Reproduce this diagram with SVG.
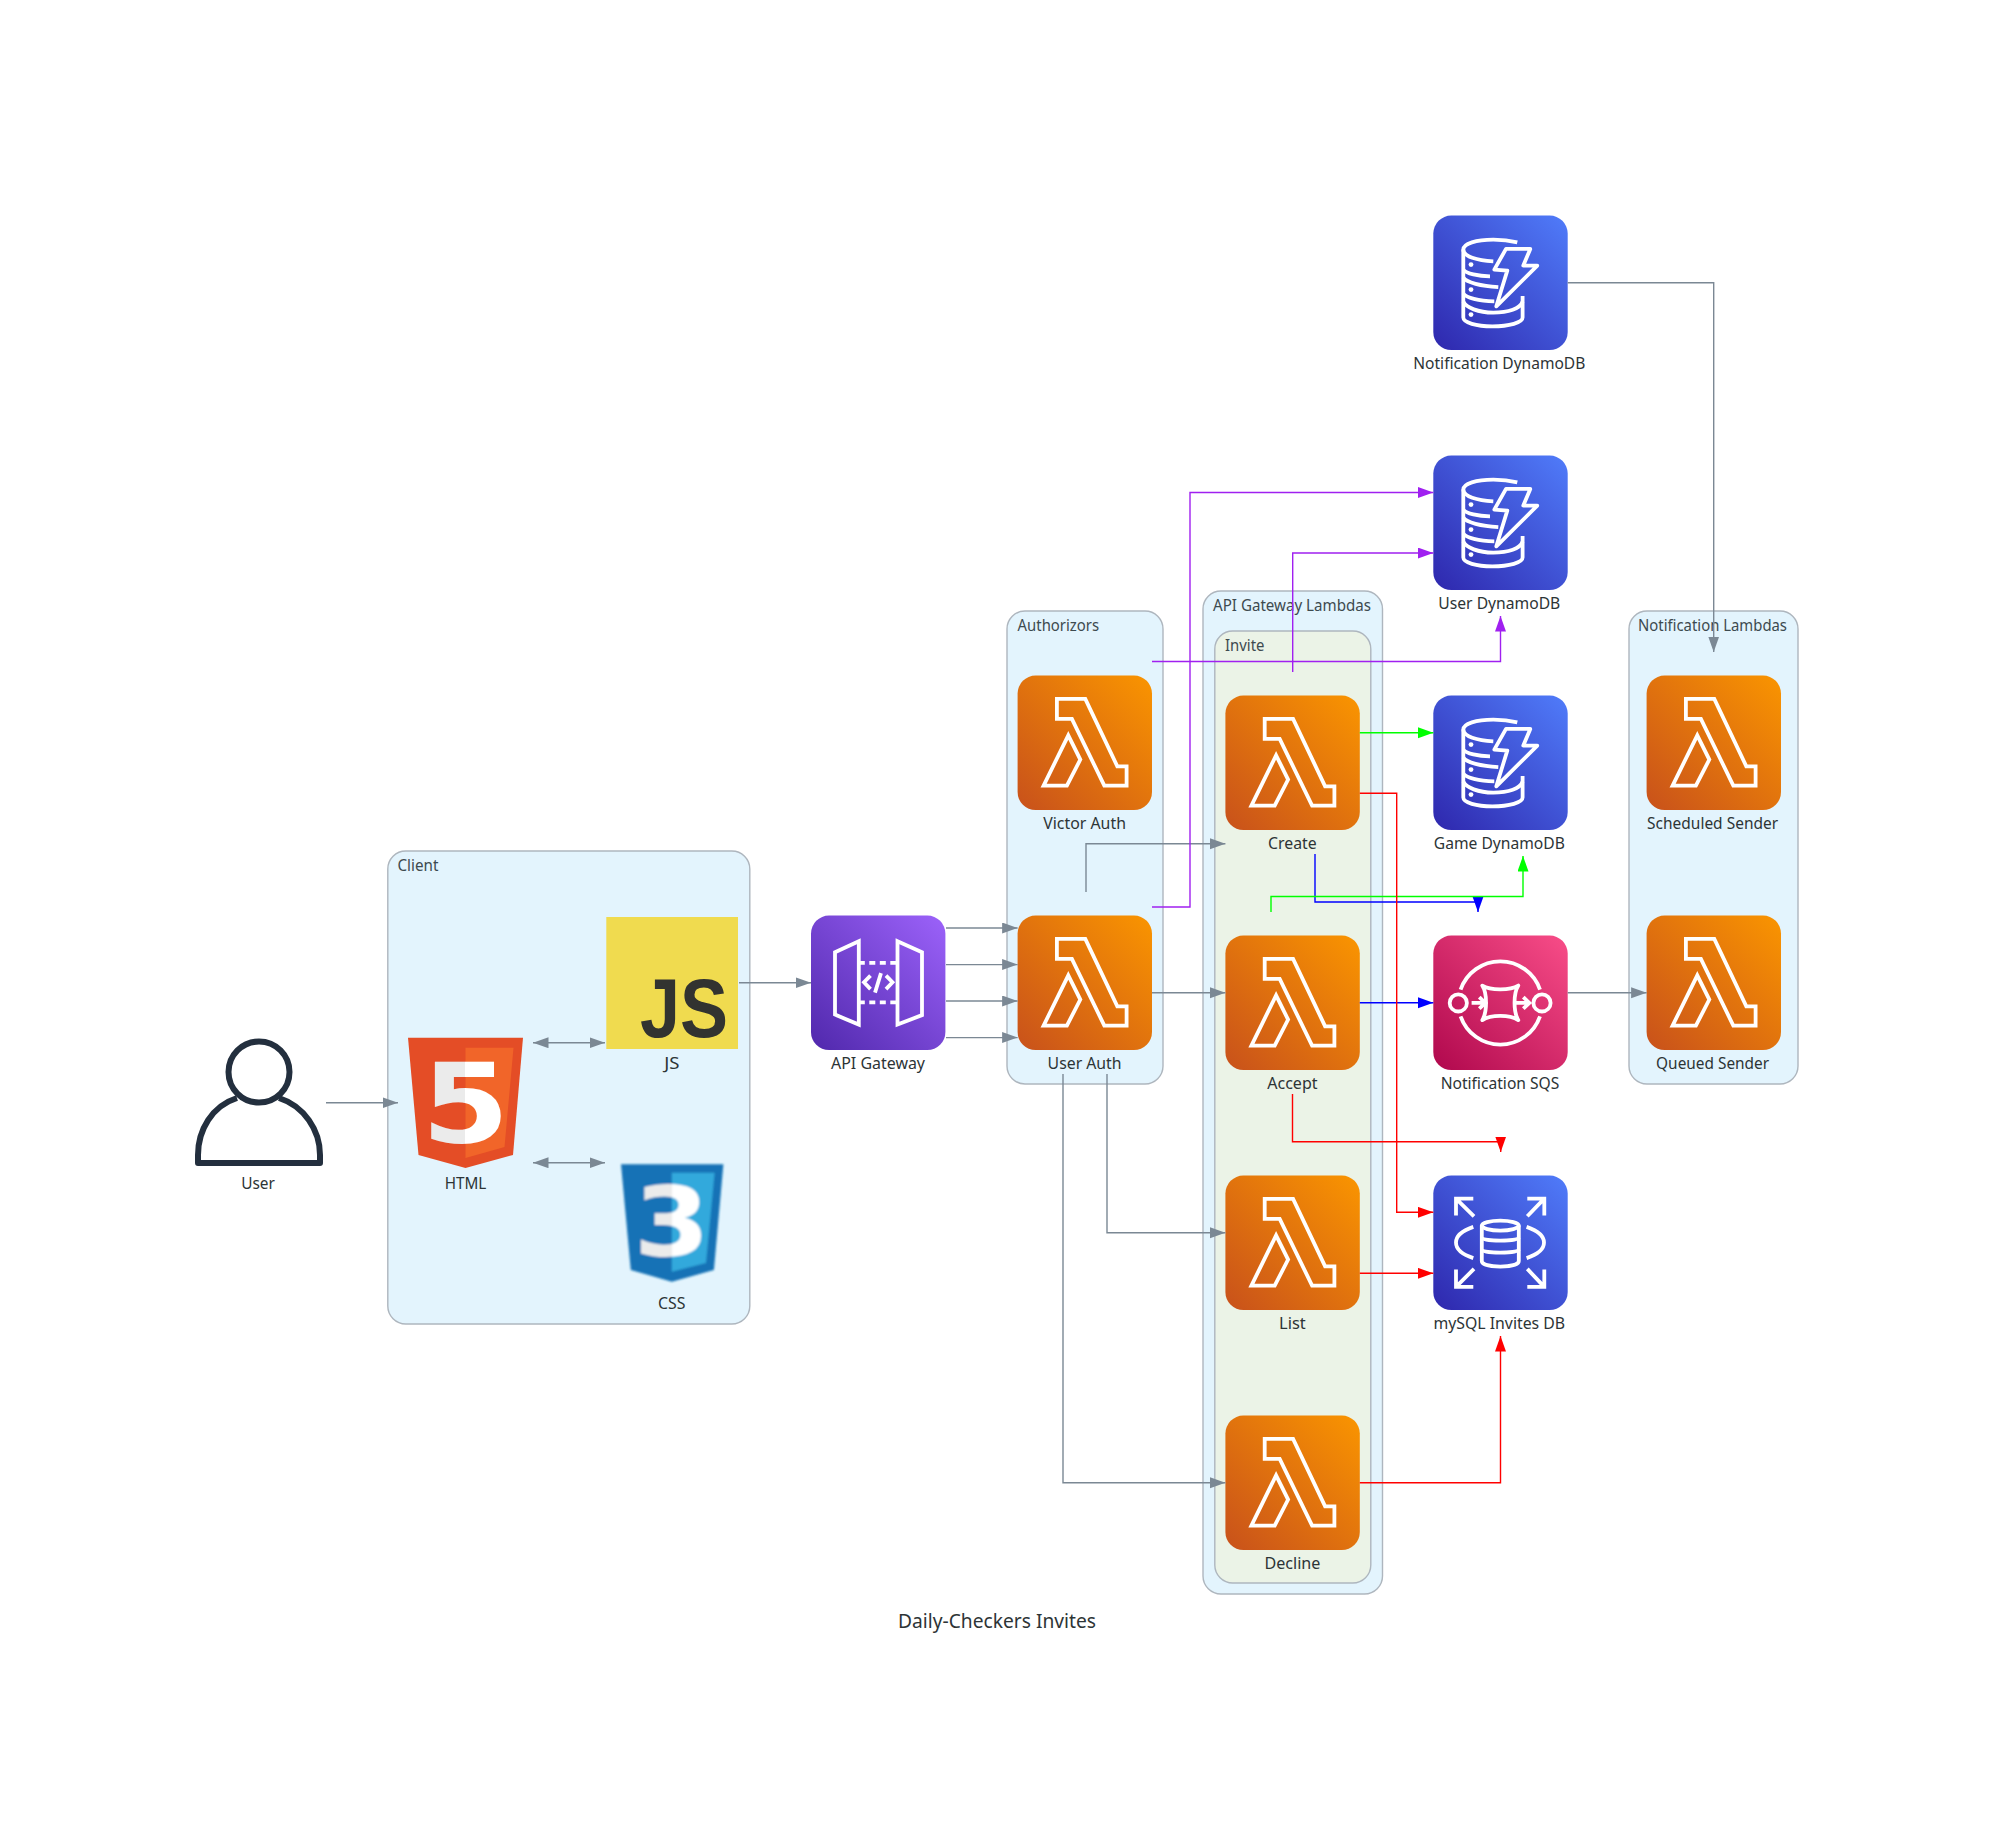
<svg xmlns="http://www.w3.org/2000/svg" width="1994" height="1833" viewBox="0 0 1994 1833">
<style>
text{font-family:"Noto Sans","Liberation Sans",sans-serif;fill:#2D3436}
.lbl{font-size:15.5px;text-anchor:middle}
.cl{font-size:15.5px;fill:#3d4a4f}
.title{font-size:20px;text-anchor:middle}
.cluster{fill:#E3F4FD;stroke:#AEB6BE;stroke-width:1.4}
.green{fill:#EBF3E7}
.ic{fill:none;stroke:#fff;stroke-width:3.8;stroke-linejoin:miter}
.e{fill:none;stroke-width:1.4}
.g{stroke:#7B8894}.p{stroke:#A020F0}.r{stroke:#FF0000}.n{stroke:#00FF00}.b{stroke:#0000FF}
.logo{font-family:"DejaVu Sans",sans-serif;font-weight:700;text-anchor:middle}
</style>
<defs>
<linearGradient id="gL" x1="0" y1="1" x2="1" y2="0"><stop offset="0" stop-color="#C8511B"/><stop offset="1" stop-color="#FA9500"/></linearGradient>
<linearGradient id="gD" x1="0" y1="1" x2="1" y2="0"><stop offset="0" stop-color="#2E27AD"/><stop offset="1" stop-color="#507CFA"/></linearGradient>
<linearGradient id="gA" x1="0" y1="1" x2="1" y2="0"><stop offset="0" stop-color="#5028AC"/><stop offset="1" stop-color="#9C62FA"/></linearGradient>
<linearGradient id="gS" x1="0" y1="1" x2="1" y2="0"><stop offset="0" stop-color="#B0084D"/><stop offset="1" stop-color="#F84D88"/></linearGradient>
<linearGradient id="five" gradientUnits="userSpaceOnUse" x1="408" y1="0" x2="523" y2="0"><stop offset=".5" stop-color="#EBEBEB"/><stop offset=".5" stop-color="#FFFFFF"/></linearGradient>
<linearGradient id="three" gradientUnits="userSpaceOnUse" x1="621" y1="0" x2="723" y2="0"><stop offset=".5" stop-color="#EBEBEB"/><stop offset=".5" stop-color="#FFFFFF"/></linearGradient>
<filter id="soft" x="-5%" y="-5%" width="110%" height="110%"><feGaussianBlur stdDeviation="0.9"/></filter>
<marker id="ag" markerUnits="userSpaceOnUse" markerWidth="16" markerHeight="12" refX="15.5" refY="5.5" orient="auto-start-reverse"><path d="M0 0L15.5 5.5L0 11Z" fill="#7B8894"/></marker>
<marker id="ap" markerUnits="userSpaceOnUse" markerWidth="16" markerHeight="12" refX="15.5" refY="5.5" orient="auto"><path d="M0 0L15.5 5.5L0 11Z" fill="#A020F0"/></marker>
<marker id="ar" markerUnits="userSpaceOnUse" markerWidth="16" markerHeight="12" refX="15.5" refY="5.5" orient="auto"><path d="M0 0L15.5 5.5L0 11Z" fill="#FF0000"/></marker>
<marker id="an" markerUnits="userSpaceOnUse" markerWidth="16" markerHeight="12" refX="15.5" refY="5.5" orient="auto"><path d="M0 0L15.5 5.5L0 11Z" fill="#00FF00"/></marker>
<marker id="ab" markerUnits="userSpaceOnUse" markerWidth="16" markerHeight="12" refX="15.5" refY="5.5" orient="auto"><path d="M0 0L15.5 5.5L0 11Z" fill="#0000FF"/></marker>
<g id="lambda">
<rect width="134.4" height="134.4" rx="18" fill="url(#gL)"/>
<path class="ic" d="M39.3 23.3H67.7L99.7 90.7H109V110H86.7L54.3 43.3H39.3Z"/>
<path class="ic" d="M50.7 59.7L62.7 84L49.3 110H26Z"/>
</g>
<g id="dynamo">
<rect width="134.4" height="134.4" rx="18" fill="url(#gD)"/>
<g class="ic">
<path d="M84 26.7C75 24.5 68 24 60 24C43 24 30 28 30 34C30 41 44 45 60 45.7"/>
<path d="M30 34V102C30 107 43 110.7 59 110.7C76 110.7 89.3 107 89.3 102V80.5"/>
<path d="M30 54C33 58 45 60.5 56.7 60.7"/>
<path d="M30 62C33 67 48 70.5 65 71.5"/>
<path d="M30 78C33 82 45 85.5 61 85.7"/>
<path d="M30 86C33 92 45 97 60 97C75 97 87 93 89.3 86"/>
<path d="M61 54L72.7 33.3H97L90 50H104L63 90.7L74 55Z" stroke-linejoin="round"/>
</g>
<circle cx="37.7" cy="49" r="2.4" fill="#fff"/><circle cx="37.7" cy="74" r="2.4" fill="#fff"/><circle cx="37.7" cy="99" r="2.4" fill="#fff"/>
</g>
</defs>

<rect width="1994" height="1833" fill="#fff"/>

<g id="cluster-client"><rect class="cluster" x="387.8" y="851" width="362" height="473" rx="18"/><text class="cl" x="397.4" y="871" textLength="41" lengthAdjust="spacingAndGlyphs">Client</text></g>
<g id="cluster-authorizors"><rect class="cluster" x="1007" y="611" width="156" height="473" rx="18"/><text class="cl" x="1017.6" y="631" textLength="81.5" lengthAdjust="spacingAndGlyphs">Authorizors</text></g>
<g id="cluster-api-lambdas"><rect class="cluster" x="1203" y="591" width="179.5" height="1003" rx="18"/><text class="cl" x="1213" y="611" textLength="158" lengthAdjust="spacingAndGlyphs">API Gateway Lambdas</text></g>
<g id="cluster-invite"><rect class="cluster green" x="1214.8" y="631" width="156" height="952" rx="18"/><text class="cl" x="1225" y="651" textLength="39.4" lengthAdjust="spacingAndGlyphs">Invite</text></g>
<g id="cluster-notification"><rect class="cluster" x="1629" y="611" width="169" height="473" rx="18"/><text class="cl" x="1638" y="631" textLength="149" lengthAdjust="spacingAndGlyphs">Notification Lambdas</text></g>

<g id="node-user">
<ellipse cx="259" cy="1072" rx="30.5" ry="30.5" fill="none" stroke="#232F3E" stroke-width="6"/>
<path d="M237 1098C212 1106 198 1130 198 1155V1163H320V1155C320 1130 304 1106 279 1098" fill="none" stroke="#232F3E" stroke-width="6" stroke-linejoin="round"/>
<text class="lbl" x="258" y="1189" textLength="33.7" lengthAdjust="spacingAndGlyphs">User</text>
</g>
<g id="node-html">
<path d="M408 1037.7H523L513 1155L465.5 1168L418.5 1155Z" fill="#E44D26"/>
<path d="M465.5 1047.7H513.5L504.5 1147L465.5 1158Z" fill="#F16529"/>
<text class="logo" x="465.5" y="1142" font-size="111" textLength="88" lengthAdjust="spacingAndGlyphs" style="fill:url(#five)">5</text>
<text class="lbl" x="465.5" y="1189" textLength="41.7" lengthAdjust="spacingAndGlyphs">HTML</text>
</g>
<g id="node-js">
<rect x="606.3" y="917" width="131.7" height="132" fill="#F0DB4F"/>
<text x="684" y="1037" font-size="83" font-weight="700" text-anchor="middle" textLength="88" lengthAdjust="spacingAndGlyphs" style="font-family:'Liberation Sans',sans-serif;fill:#323330">JS</text>
<text class="lbl" x="671.8" y="1069" textLength="15.3" lengthAdjust="spacingAndGlyphs">JS</text>
</g>
<g id="node-css">
<g filter="url(#soft)">
<path d="M621 1164.3H723.4L713.9 1270L671.8 1281.7L630.8 1270Z" fill="#1572B6"/>
<path d="M671.8 1172.7H714.6L706 1263L671.8 1271.7Z" fill="#33A9DC"/>
<text class="logo" x="671.8" y="1256" font-size="97" textLength="76" lengthAdjust="spacingAndGlyphs" style="fill:url(#three)">3</text>
</g>
<text class="lbl" x="671.8" y="1309" textLength="27.5" lengthAdjust="spacingAndGlyphs">CSS</text>
</g>
<g id="node-api-gateway" transform="translate(811 915.6)">
<rect width="134.4" height="134.4" rx="18" fill="url(#gA)"/>
<path class="ic" d="M24 36.7L47.8 25.7V109L24 99Z"/>
<path class="ic" d="M86.5 25.7L111 36.7V99.5L86.5 109Z"/>
<path class="ic" stroke-dasharray="6 4.5" d="M47.8 47.3H86.5M47.8 86.7H86.5"/>
<path class="ic" d="M59.5 60L53 66.7L59.5 73.5M75 60L81.5 66.7L75 73.5M70 57.5L64 77"/>
<text class="lbl" x="67" y="153.4" textLength="94" lengthAdjust="spacingAndGlyphs">API Gateway</text>
</g>
<g id="node-victor-auth" transform="translate(1017.6 675.6)"><use href="#lambda"/><text class="lbl" x="67" y="153.4" textLength="82.7" lengthAdjust="spacingAndGlyphs">Victor Auth</text></g>
<g id="node-user-auth" transform="translate(1017.6 915.6)"><use href="#lambda"/><text class="lbl" x="67" y="153.4" textLength="74" lengthAdjust="spacingAndGlyphs">User Auth</text></g>
<g id="node-create" transform="translate(1225.4 695.6)"><use href="#lambda"/><text class="lbl" x="67" y="153.4" textLength="48.6" lengthAdjust="spacingAndGlyphs">Create</text></g>
<g id="node-accept" transform="translate(1225.4 935.6)"><use href="#lambda"/><text class="lbl" x="67" y="153.4" textLength="50.3" lengthAdjust="spacingAndGlyphs">Accept</text></g>
<g id="node-list" transform="translate(1225.4 1175.6)"><use href="#lambda"/><text class="lbl" x="67" y="153.4" textLength="26.7" lengthAdjust="spacingAndGlyphs">List</text></g>
<g id="node-decline" transform="translate(1225.4 1415.6)"><use href="#lambda"/><text class="lbl" x="67" y="153.4" textLength="56" lengthAdjust="spacingAndGlyphs">Decline</text></g>
<g id="node-notification-dynamodb" transform="translate(1433.3 215.6)"><use href="#dynamo"/><text class="lbl" x="66" y="153.4" textLength="172" lengthAdjust="spacingAndGlyphs">Notification DynamoDB</text></g>
<g id="node-user-dynamodb" transform="translate(1433.3 455.6)"><use href="#dynamo"/><text class="lbl" x="66" y="153.4" textLength="122" lengthAdjust="spacingAndGlyphs">User DynamoDB</text></g>
<g id="node-game-dynamodb" transform="translate(1433.3 695.6)"><use href="#dynamo"/><text class="lbl" x="66" y="153.4" textLength="131" lengthAdjust="spacingAndGlyphs">Game DynamoDB</text></g>
<g id="node-notification-sqs" transform="translate(1433.3 935.6)">
<rect width="134.4" height="134.4" rx="18" fill="url(#gS)"/>
<g class="ic">
<path d="M27.3 54A42 42 0 0 1 106.7 54M27.3 80.7A42 42 0 0 0 106.7 80.7"/>
<circle cx="25" cy="67.3" r="8.6"/><circle cx="108.7" cy="67.3" r="8.6"/>
<path d="M49 50C57 55 77 55 85 50C80 58 80 76 85 84.5C77 79 57 79 49 84.5C54 76 54 58 49 50Z" stroke-linejoin="round"/>
<path d="M38.3 67.3H51M46 61.5L52 67.3L46 73M82 67.3H95M90 61.5L96 67.3L90 73"/>
</g>
<text class="lbl" x="66.7" y="153.4" textLength="118.7" lengthAdjust="spacingAndGlyphs">Notification SQS</text>
</g>
<g id="node-mysql-invites-db" transform="translate(1433.3 1175.6)">
<rect width="134.4" height="134.4" rx="18" fill="url(#gD)"/>
<g class="ic">
<ellipse cx="67" cy="50" rx="18.5" ry="5"/>
<path d="M48.5 50V85.5C48.5 89 57 91 67 91C77 91 85.5 89 85.5 85.5V50"/>
<path d="M48.5 62C50 66 84 66 85.5 62M48.5 74C50 78 84 78 85.5 74"/>
<path d="M40 51.3C29 55 22.7 60 22.7 67C22.7 74 29 79 40 82.5M93.3 51.3C104 55 110.7 60 110.7 67C110.7 74 104 79 93.3 82.5"/>
<path d="M40 23H22.7V40M22.7 23L40.7 40.7M94 23H111V40M111 23L94 40.7M22.7 94V111.3H40M22.7 111.3L40.7 93.3M111 94V111.3H94M111 111.3L94 93.3"/>
</g>
<text class="lbl" x="66" y="153.4" textLength="131.7" lengthAdjust="spacingAndGlyphs">mySQL Invites DB</text>
</g>
<g id="node-scheduled-sender" transform="translate(1646.6 675.6)"><use href="#lambda"/><text class="lbl" x="66" y="153.4" textLength="131" lengthAdjust="spacingAndGlyphs">Scheduled Sender</text></g>
<g id="node-queued-sender" transform="translate(1646.6 915.6)"><use href="#lambda"/><text class="lbl" x="66" y="153.4" textLength="113" lengthAdjust="spacingAndGlyphs">Queued Sender</text></g>

<g id="connectors">
<path class="e g" marker-end="url(#ag)" d="M326 1102.7H398"/>
<path class="e g" marker-start="url(#ag)" marker-end="url(#ag)" d="M533 1042.7H605"/>
<path class="e g" marker-start="url(#ag)" marker-end="url(#ag)" d="M533 1162.7H605"/>
<path class="e g" marker-end="url(#ag)" d="M739 982.7H811"/>
<path class="e g" marker-end="url(#ag)" d="M946 928H1017.6"/>
<path class="e g" marker-end="url(#ag)" d="M946 964.6H1017.6"/>
<path class="e g" marker-end="url(#ag)" d="M946 1001H1017.6"/>
<path class="e g" marker-end="url(#ag)" d="M946 1037.6H1017.6"/>
<path class="e g" marker-end="url(#ag)" d="M1086 892V843.7H1225.4"/>
<path class="e g" marker-end="url(#ag)" d="M1152 992.7H1225.4"/>
<path class="e g" marker-end="url(#ag)" d="M1107 1074V1232.7H1225.4"/>
<path class="e g" marker-end="url(#ag)" d="M1063 1074V1482.7H1225.4"/>
<path class="e g" marker-end="url(#ag)" d="M1567.7 282.7H1713.7V652"/>
<path class="e g" marker-end="url(#ag)" d="M1567.7 992.7H1646.6"/>
<path class="e p" marker-end="url(#ap)" d="M1152 661.5H1500.5V616"/>
<path class="e p" marker-end="url(#ap)" d="M1152 907H1190V492.5H1433.3"/>
<path class="e p" marker-end="url(#ap)" d="M1292.7 672V553H1433.3"/>
<path class="e b" marker-end="url(#ab)" d="M1315 854V902H1478V912"/>
<path class="e b" marker-end="url(#ab)" d="M1359.8 1002.7H1433.3"/>
<path class="e n" marker-end="url(#an)" d="M1359.8 732.7H1433.3"/>
<path class="e n" marker-end="url(#an)" d="M1271 912V896.5H1523V856"/>
<path class="e r" marker-end="url(#ar)" d="M1359.8 793.3H1396.7V1212.3H1433.3"/>
<path class="e r" marker-end="url(#ar)" d="M1292.5 1094V1141.7H1500.7V1152"/>
<path class="e r" marker-end="url(#ar)" d="M1359.8 1273.3H1433.3"/>
<path class="e r" marker-end="url(#ar)" d="M1359.8 1482.7H1500.5V1336"/>
</g>

<text class="title" x="997" y="1628" textLength="198" lengthAdjust="spacingAndGlyphs">Daily-Checkers Invites</text>
</svg>
